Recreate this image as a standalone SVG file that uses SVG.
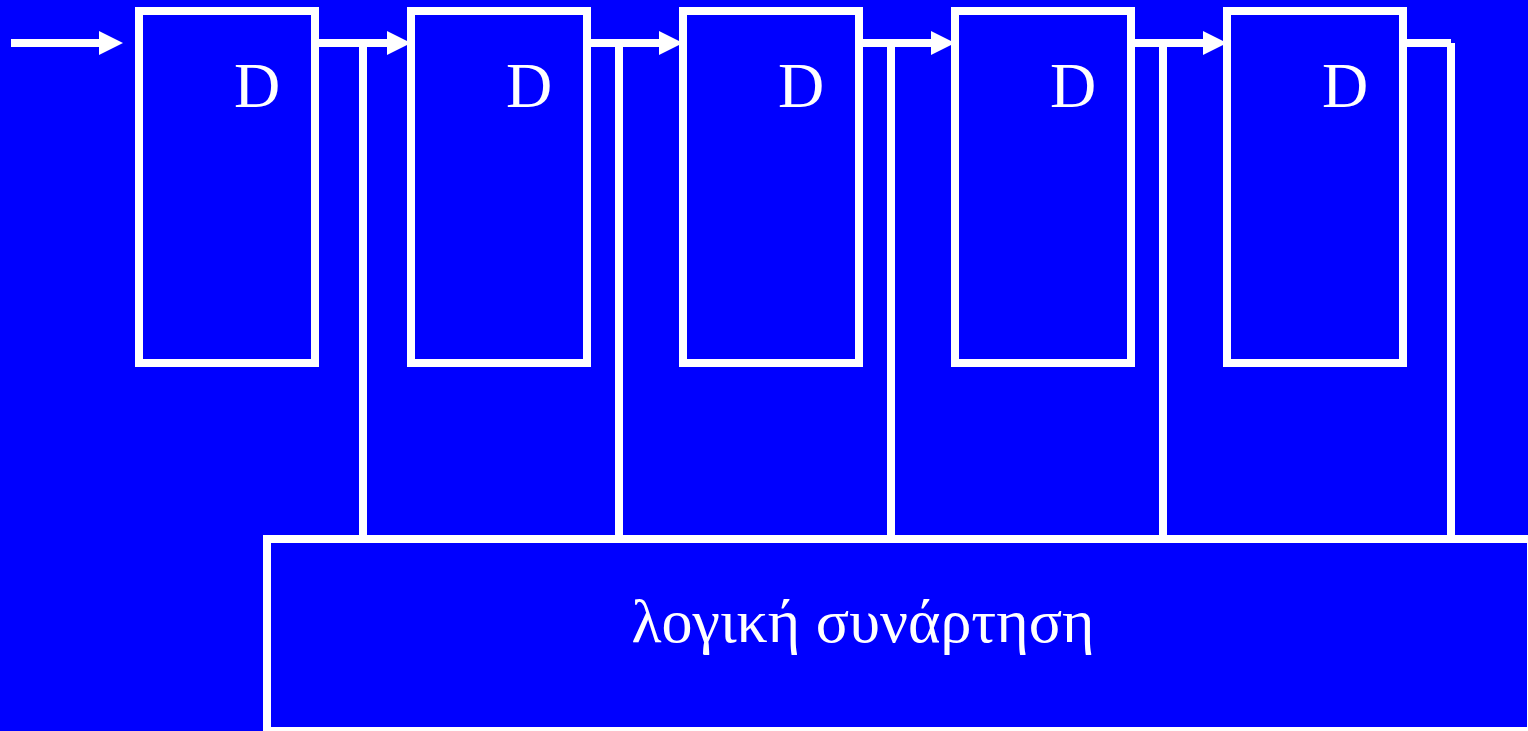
<svg xmlns="http://www.w3.org/2000/svg" width="1528" height="731" viewBox="0 0 1528 731">
<style>
.box{fill:none;stroke:#fff;stroke-width:8}
.wire{fill:none;stroke:#fff;stroke-width:8;stroke-linecap:butt}
.lbl{fill:#fff;font-family:"Liberation Serif","DejaVu Serif",serif;font-size:64px;text-anchor:middle}
.big{font-size:62px}
</style>
<defs>
<marker id="arr" markerUnits="userSpaceOnUse" markerWidth="24" markerHeight="24" refX="0" refY="12" orient="auto" viewBox="0 0 24 24">
<path d="M0,0 L24,12 L0,24 Z" fill="#fff"/>
</marker>
</defs>
<rect x="0" y="0" width="1528" height="731" fill="#0000ff"/>
<g id="connectors">
<line class="wire" x1="11" y1="43" x2="99" y2="43" marker-end="url(#arr)"/>
<line class="wire" x1="315" y1="43" x2="387" y2="43" marker-end="url(#arr)"/>
<line class="wire" x1="587" y1="43" x2="659" y2="43" marker-end="url(#arr)"/>
<line class="wire" x1="859" y1="43" x2="931" y2="43" marker-end="url(#arr)"/>
<line class="wire" x1="1131" y1="43" x2="1203" y2="43" marker-end="url(#arr)"/>
<line class="wire" x1="1403" y1="43" x2="1451" y2="43"/>
<line class="wire" x1="363" y1="43" x2="363" y2="539"/>
<line class="wire" x1="619" y1="43" x2="619" y2="539"/>
<line class="wire" x1="891" y1="43" x2="891" y2="539"/>
<line class="wire" x1="1163" y1="43" x2="1163" y2="539"/>
<line class="wire" x1="1451" y1="43" x2="1451" y2="539"/>
</g>
<g id="d1"><rect class="box" x="139" y="11" width="176" height="352"/><text class="lbl" x="257" y="107">D</text></g>
<g id="d2"><rect class="box" x="411" y="11" width="176" height="352"/><text class="lbl" x="529" y="107">D</text></g>
<g id="d3"><rect class="box" x="683" y="11" width="176" height="352"/><text class="lbl" x="801" y="107">D</text></g>
<g id="d4"><rect class="box" x="955" y="11" width="176" height="352"/><text class="lbl" x="1073" y="107">D</text></g>
<g id="d5"><rect class="box" x="1227" y="11" width="176" height="352"/><text class="lbl" x="1345" y="107">D</text></g>
<g id="logic"><rect class="box" x="267" y="539" width="1264" height="192"/><text class="lbl big" x="863" y="642">λογική συνάρτηση</text></g>
</svg>
